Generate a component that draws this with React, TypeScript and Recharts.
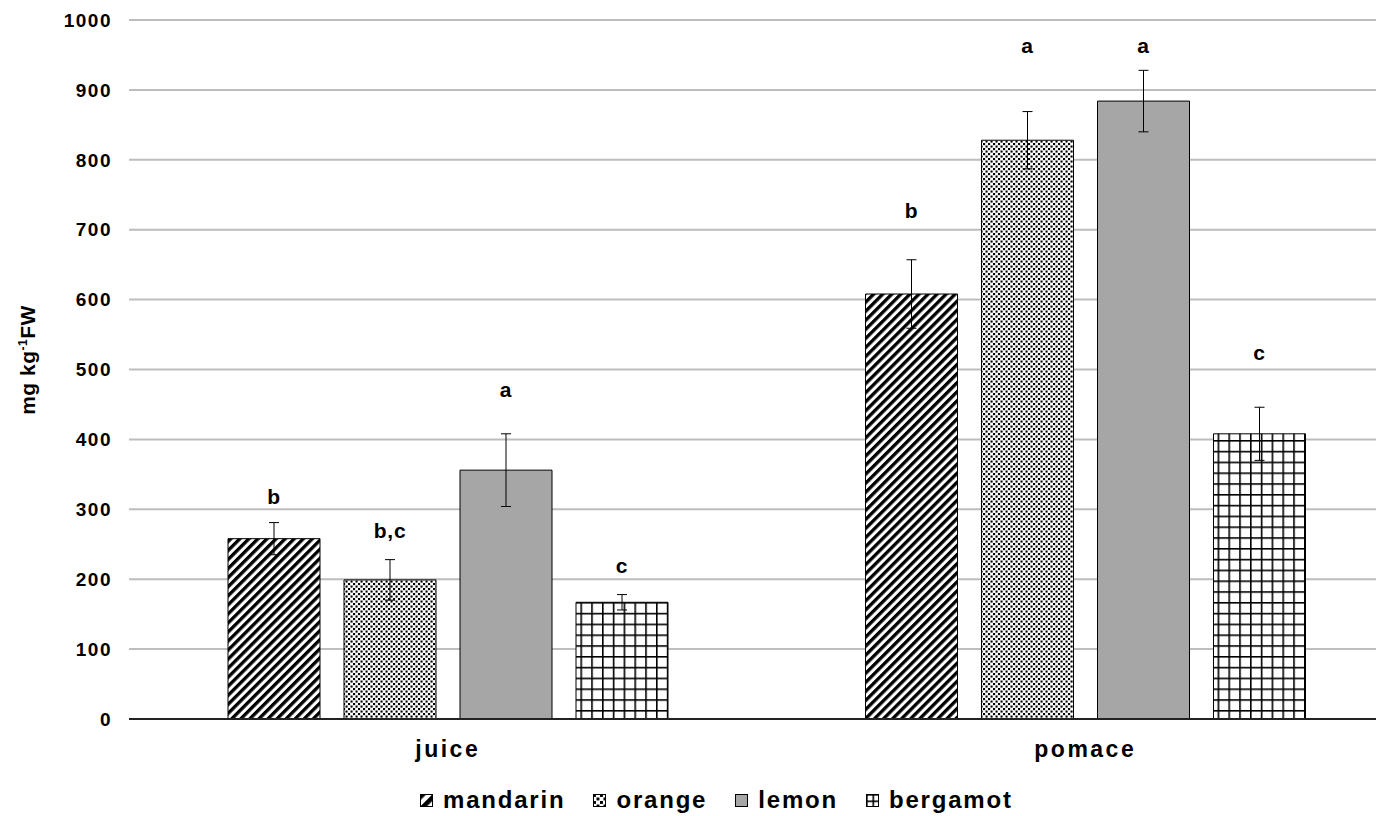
import React from "react";
import {
	BarChart,
	Bar,
	XAxis,
	YAxis,
	CartesianGrid,
	ErrorBar,
	LabelList,
} from "recharts";

// groups on the x axis
const categories = ["juice", "pomace"];

// mean values, mg kg-1 FW
const mandarin = [258, 608];
const orange = [199, 828];
const lemon = [356, 884];
const bergamot = [167, 408];

// error bar half-ranges
const mandarinErr = [23, 49];
const orangeErr = [29, 41];
const lemonErr = [52, 44];
const bergamotErr = [11, 38];

// significance letters and the level (same units) they sit at
const mandarinLetters = ["b", "b"];
const orangeLetters = ["b,c", "a"];
const lemonLetters = ["a", "a"];
const bergamotLetters = ["c", "c"];
const mandarinLetterAt = [318, 728];
const orangeLetterAt = [270, 964];
const lemonLetterAt = [471, 964];
const bergamotLetterAt = [220, 524];

const yTicks = [0, 100, 200, 300, 400, 500, 600, 700, 800, 900, 1000];

const FONT = '"Liberation Sans", Arial, sans-serif';

const series = [
	{ key: "mandarin", values: mandarin, err: mandarinErr, letters: mandarinLetters, letterAt: mandarinLetterAt, pattern: true, fill: "" },
	{ key: "orange", values: orange, err: orangeErr, letters: orangeLetters, letterAt: orangeLetterAt, pattern: true, fill: "" },
	{ key: "lemon", values: lemon, err: lemonErr, letters: lemonLetters, letterAt: lemonLetterAt, pattern: false, fill: "#a6a6a6" },
	{ key: "bergamot", values: bergamot, err: bergamotErr, letters: bergamotLetters, letterAt: bergamotLetterAt, pattern: true, fill: "" },
];

const data = categories.map((cat, i) => {
	const row: Record<string, any> = { cat };
	series.forEach((s) => {
		row[s.key] = s.values[i];
		row[s.key + "Err"] = s.err[i];
	});
	return row;
});

function Patterns({ prefix, k = 1 }: { prefix: string; k?: number }) {
	const h = 6.4 * k;
	const d = 5 * k;
	const g = 10.8 * (k === 1 ? 1 : 0.6);
	return (
		<defs>
			<pattern
				id={`${prefix}-mandarin`}
				patternUnits="userSpaceOnUse"
				width={h}
				height={h}
				patternTransform="rotate(45)"
			>
				<rect x={0} y={0} width={h} height={h} fill="#fff" />
				<rect x={0} y={0} width={h * 0.52} height={h} fill="#000" />
			</pattern>
			<pattern id={`${prefix}-orange`} patternUnits="userSpaceOnUse" width={d} height={d}>
				<rect x={0} y={0} width={d} height={d} fill="#fff" />
				<rect x={0} y={0} width={d * 0.42} height={d * 0.42} fill="#000" />
				<rect x={d / 2} y={d / 2} width={d * 0.42} height={d * 0.42} fill="#000" />
			</pattern>
			<pattern id={`${prefix}-bergamot`} patternUnits="userSpaceOnUse" width={g} height={g}>
				<rect x={0} y={0} width={g} height={g} fill="#fff" />
				<rect x={0} y={0} width={1.6} height={g} fill="#000" />
				<rect x={0} y={0} width={g} height={1.6} fill="#000" />
			</pattern>
		</defs>
	);
}

const letterContent = (s: (typeof series)[number]) => (p: any) => {
	const vb = p.viewBox ?? p;
	const { x, y, width, height } = vb;
	const i = categories.indexOf(p.value);
	if (i < 0) return null;
	const v = s.values[i];
	const base = y + height;
	const cy = base - (s.letterAt[i] * height) / v;
	return (
		<text
			x={x + width / 2}
			y={cy}
			dy="0.36em"
			textAnchor="middle"
			fontFamily={FONT}
			fontWeight="bold"
			fontSize={21}
			letterSpacing={0.8}
			fill="#000"
		>
			{s.letters[i]}
		</text>
	);
};

function YLabel() {
	return (
		<text
			transform="translate(27, 352) rotate(-90)"
			textAnchor="middle"
			fontFamily={FONT}
			fontWeight="bold"
			fontSize={21}
			letterSpacing={0.5}
			fill="#000"
		>
			<tspan>mg kg</tspan>
			<tspan fontSize={12} dy={-8}>-1</tspan>
			<tspan dy={8}>FW</tspan>
		</text>
	);
}

function LegendRow() {
	return (
		<div
			style={{
				position: "absolute",
				left: 412,
				top: 778,
				display: "flex",
				alignItems: "center",
				fontFamily: FONT,
				fontWeight: "bold",
				fontSize: 24,
				letterSpacing: 1.8,
				lineHeight: "28px",
				color: "#000",
			}}
		>
			{series.map((s) => (
				<div key={s.key} style={{ display: "flex", alignItems: "center", marginRight: 28 }}>
					<svg width={13} height={13} style={{ marginRight: 10, display: "block" }}>
						<Patterns prefix={`lg-${s.key}`} k={1.4} />
						<rect
							x={0.5}
							y={0.5}
							width={12}
							height={12}
							fill={s.pattern ? `url(#lg-${s.key}-${s.key})` : s.fill}
							stroke="#000"
							strokeWidth={1}
						/>
					</svg>
					<span>{s.key}</span>
				</div>
			))}
		</div>
	);
}

export default function App() {
	return (
		<div
			style={{
				position: "relative",
				width: 1376,
				height: 808,
				overflow: "hidden",
				background: "#fff",
			}}
		>
			<BarChart
				width={1400}
				height={808}
				data={data}
				margin={{ top: 12, right: 4, bottom: 47, left: 0 }}
				barSize={92}
				barGap={24}
			>
				<Patterns prefix="pat" />
				<CartesianGrid vertical={false} stroke="#bdbdbd" strokeWidth={2} />
				<XAxis
					dataKey="cat"
					height={50}
					axisLine={{ stroke: "#222", strokeWidth: 2 }}
					tickLine={false}
					tickSize={0}
					tickMargin={22}
					tick={{
						fontFamily: FONT,
						fontWeight: "bold",
						fontSize: 23,
						letterSpacing: 2.5,
						fill: "#000",
					}}
				/>
				<YAxis
					width={121}
					domain={[0, 1000]}
					ticks={yTicks}
					interval={0}
					axisLine={false}
					tickLine={false}
					tickSize={0}
					tickMargin={17}
					tick={{
						fontFamily: FONT,
						fontWeight: "bold",
						fontSize: 19,
						letterSpacing: 1.5,
						fill: "#000",
					}}
				/>
				{series.map((s) => (
					<Bar
						key={s.key}
						dataKey={s.key}
						fill={s.pattern ? `url(#pat-${s.key})` : s.fill}
						stroke="#000"
						strokeWidth={1}
						isAnimationActive={false}
					>
						<ErrorBar
							dataKey={s.key + "Err"}
							direction="y"
							width={5}
							stroke="#000"
							strokeWidth={1}
						/>
						<LabelList dataKey="cat" content={letterContent(s)} />
					</Bar>
				))}
				<YLabel />
			</BarChart>
			<LegendRow />
		</div>
	);
}
